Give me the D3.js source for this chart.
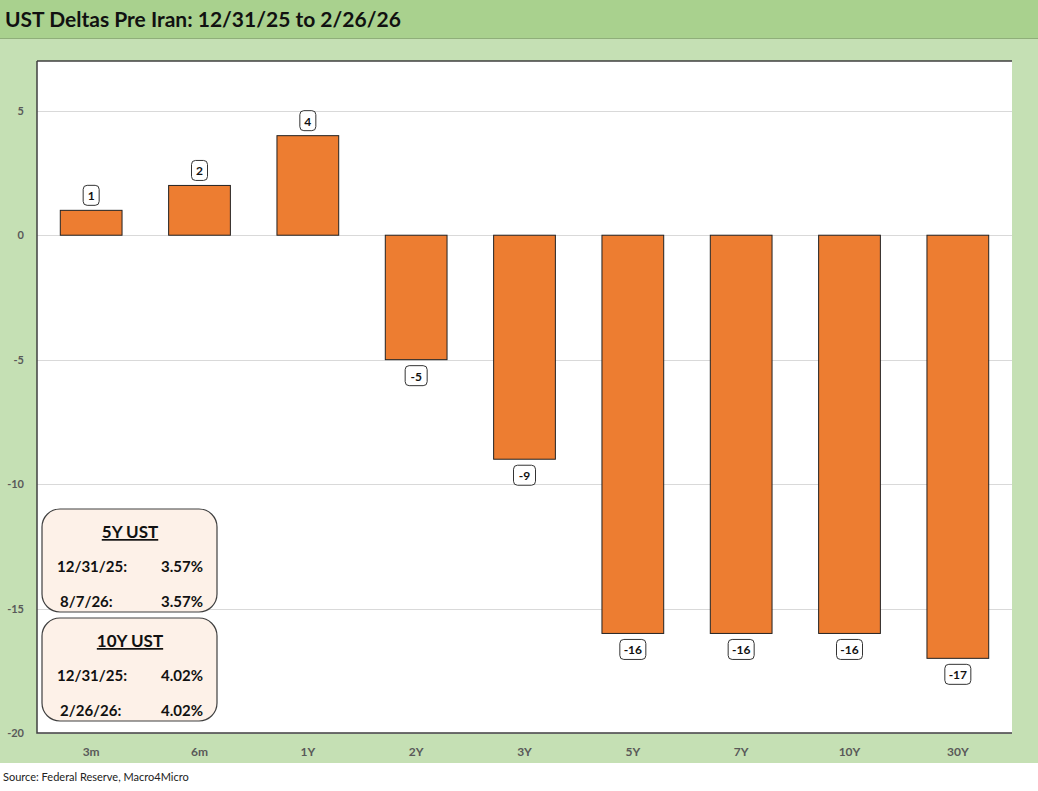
<!DOCTYPE html>
<html>
<head>
<meta charset="utf-8">
<script src="https://cdn.jsdelivr.net/npm/d3@7"></script>
<style>
  body { margin: 0; background: #fff; }
  text { font-family: Lato, "Open Sans", sans-serif; }
</style>
</head>
<body>
<div id="chart"></div>
<script>
// Data
const tenors = ["3m", "6m", "1Y", "2Y", "3Y", "5Y", "7Y", "10Y", "30Y"];
const deltas = [1, 2, 4, -5, -9, -16, -16, -16, -17];
const yTicks = [5, 0, -5, -10, -15, -20];
const box5y = { title: "5Y UST", rows: [["12/31/25:", "3.57%"], ["8/7/26:", "3.57%"]] };
const box10y = { title: "10Y UST", rows: [["12/31/25:", "4.02%"], ["2/26/26:", "4.02%"]] };

const width = 1038, height = 791;
const plot = { left: 37, right: 1012, top: 61, bottom: 733 };

const svg = d3.select('#chart').append('svg')
    .attr('width', width)
    .attr('height', height);

// Backgrounds
svg.append('rect').attr('x', 0).attr('y', 0).attr('width', width).attr('height', 763).attr('fill', '#c5e0b4');
svg.append('rect').attr('x', 0).attr('y', 0).attr('width', width).attr('height', 38).attr('fill', '#a9d18e');
svg.append('line').attr('x1', 0).attr('x2', width).attr('y1', 38.5).attr('y2', 38.5).attr('stroke', '#8fae7a');
svg.append('text').attr('x', 5).attr('y', 27)
    .attr('font-size', 21).attr('font-weight', 'bold').attr('fill', '#111')
    .text('UST Deltas Pre Iran: 12/31/25 to 2/26/26');
svg.append('text').attr('x', 3).attr('y', 781)
    .attr('font-size', 11).attr('fill', '#222')
    .text('Source: Federal Reserve, Macro4Micro');

svg.append('rect')
    .attr('x', plot.left).attr('y', plot.top)
    .attr('width', plot.right - plot.left).attr('height', plot.bottom - plot.top)
    .attr('fill', '#fff');

// Scales
const x = d3.scaleBand().domain(tenors).range([plot.left, plot.right]).paddingInner(0.43).paddingOuter(0.215);
const y = d3.scaleLinear().domain([-20, 7]).range([plot.bottom, plot.top]);

// Gridlines
svg.selectAll('.grid').data(yTicks).join('line')
    .attr('x1', plot.left).attr('x2', plot.right)
    .attr('y1', d => Math.round(y(d)) + 0.5).attr('y2', d => Math.round(y(d)) + 0.5)
    .attr('stroke', '#d9d9d9');

// Y tick labels
svg.selectAll('.ytick').data(yTicks).join('text')
    .attr('x', 24).attr('y', d => y(d) + 4)
    .attr('text-anchor', 'end').attr('font-size', 11).attr('font-weight', 'bold').attr('fill', '#595959')
    .text(d => d);

// Plot border (left and bottom)
svg.append('path')
    .attr('d', `M${plot.left},${plot.top}H${plot.right}M${plot.left},${plot.top}V${plot.bottom}H${plot.right}`)
    .attr('stroke', '#404040').attr('stroke-width', 1.5).attr('fill', 'none');

// Bars
const data = tenors.map((t, i) => ({ t, v: deltas[i] }));
svg.selectAll('.bar').data(data).join('rect')
    .attr('x', d => x(d.t)).attr('width', x.bandwidth())
    .attr('y', d => y(Math.max(0, d.v)))
    .attr('height', d => Math.abs(y(d.v) - y(0)))
    .attr('fill', '#ed7d31').attr('stroke', '#222').attr('stroke-width', 1);

// X labels
svg.selectAll('.xlab').data(tenors).join('text')
    .attr('x', d => x(d) + x.bandwidth() / 2).attr('y', 756)
    .attr('text-anchor', 'middle').attr('font-size', 12).attr('font-weight', 'bold').attr('fill', '#595959')
    .text(d => d);

// Value labels
const lab = svg.selectAll('.vlab').data(data).join('g')
    .attr('transform', d => {
      const cx = x(d.t) + x.bandwidth() / 2;
      const cy = d.v >= 0 ? y(d.v) - 15 : y(d.v) + 16;
      return `translate(${cx},${cy})`;
    });
lab.append('rect')
    .attr('x', d => d.v < 0 && d.v <= -10 ? -13 : (d.v < 0 ? -11 : -8))
    .attr('width', d => d.v <= -10 ? 26 : (d.v < 0 ? 22 : 16))
    .attr('y', -10).attr('height', 20).attr('rx', 4)
    .attr('fill', '#fff').attr('stroke', '#333');
lab.append('text')
    .attr('text-anchor', 'middle').attr('y', 5)
    .attr('font-size', 12).attr('font-weight', 'bold').attr('fill', '#111')
    .text(d => d.v);

// Info boxes
function infoBox(info, top) {
  const g = svg.append('g').attr('transform', `translate(42,${top})`);
  g.append('rect').attr('width', 175).attr('height', 103).attr('rx', 18)
      .attr('fill', '#fdf1e8').attr('stroke', '#404040').attr('stroke-width', 1.2);
  g.append('text').attr('x', 88).attr('y', 29).attr('text-anchor', 'middle')
      .attr('font-size', 17).attr('font-weight', 'bold').attr('text-decoration', 'underline').attr('fill', '#111')
      .text(info.title);
  info.rows.forEach((r, i) => {
    g.append('text').attr('x', i === 0 ? 15 : 18).attr('y', 63 + i * 35)
        .attr('font-size', 15).attr('font-weight', 'bold').attr('fill', '#111').text(r[0]);
    g.append('text').attr('x', 161).attr('y', 63 + i * 35).attr('text-anchor', 'end')
        .attr('font-size', 15).attr('font-weight', 'bold').attr('fill', '#111').text(r[1]);
  });
}
infoBox(box5y, 509);
infoBox(box10y, 618);
</script>
</body>
</html>
